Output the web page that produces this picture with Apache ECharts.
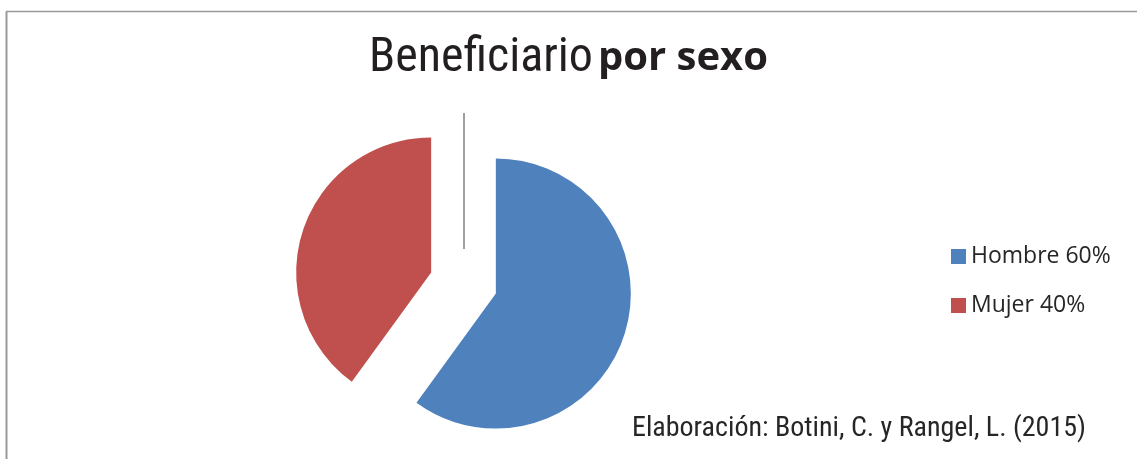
<!DOCTYPE html>
<html>
<head>
<meta charset="utf-8">
<script src="https://cdn.jsdelivr.net/npm/echarts@6/dist/echarts.min.js"></script>
<style>
  html, body { margin: 0; padding: 0; background: #fff; }
  #chart { width: 1137px; height: 459px; }
</style>
</head>
<body>
<div id="chart"></div>
<script>
// datos
const categories = ['Hombre 60%', 'Mujer 40%']
const values = [60, 40]
const colors = ['#4F81BD', '#C0504D']

const chart = echarts.init(document.getElementById('chart'))

const option = {
  backgroundColor: '#fff',
  animation: false,
  title: {
    text: '{a|Beneficiario} {b|por sexo}',
    left: 'center',
    top: 30,
    textStyle: {
      rich: {
        a: {
          fontFamily: '"Liberation Sans Narrow", "Roboto Condensed", "Liberation Sans", sans-serif',
          fontWeight: 'normal',
          fontSize: 48,
          color: '#231f20'
        },
        b: {
          fontFamily: '"Open Sans", "Noto Sans", sans-serif',
          fontWeight: 'bold',
          fontSize: 40,
          color: '#231f20'
        }
      }
    }
  },
  legend: {
    orient: 'vertical',
    left: 951,
    top: 245,
    padding: 0,
    itemWidth: 15,
    itemHeight: 15,
    itemGap: 26,
    icon: 'rect',
    textStyle: {
      fontFamily: '"Open Sans", "Noto Sans", sans-serif',
      fontSize: 23,
      lineHeight: 23,
      color: '#262626'
    },
    data: categories
  },
  graphic: [
    {
      type: 'line',
      shape: { x1: 6.5, y1: 460, x2: 6.5, y2: 11.5 },
      style: { stroke: '#9a9a9a', lineWidth: 2 }
    },
    {
      type: 'line',
      shape: { x1: 6, y1: 11.5, x2: 1137, y2: 11.5 },
      style: { stroke: '#9a9a9a', lineWidth: 1.5 }
    },
    {
      type: 'line',
      shape: { x1: 464, y1: 113, x2: 464, y2: 249 },
      style: { stroke: '#a0a0a0', lineWidth: 2 }
    },
    {
      type: 'text',
      left: 632,
      top: 415,
      style: {
        text: 'Elaboración: Botini, C. y Rangel, L. (2015)',
        font: '28px "Liberation Sans Narrow", "Roboto Condensed", "Liberation Sans", sans-serif',
        fill: '#262626'
      }
    }
  ],
  series: [
    {
      type: 'pie',
      center: [463.5, 283],
      radius: 135,
      startAngle: 90,
      clockwise: true,
      selectedMode: 'multiple',
      selectedOffset: 34,
      label: { show: false },
      labelLine: { show: false },
      emphasis: { disabled: true },
      itemStyle: { borderWidth: 0 },
      data: categories.map((name, i) => ({
        name: name,
        value: values[i],
        selected: true,
        itemStyle: { color: colors[i] }
      }))
    }
  ]
}

chart.setOption(option)
</script>
</body>
</html>
